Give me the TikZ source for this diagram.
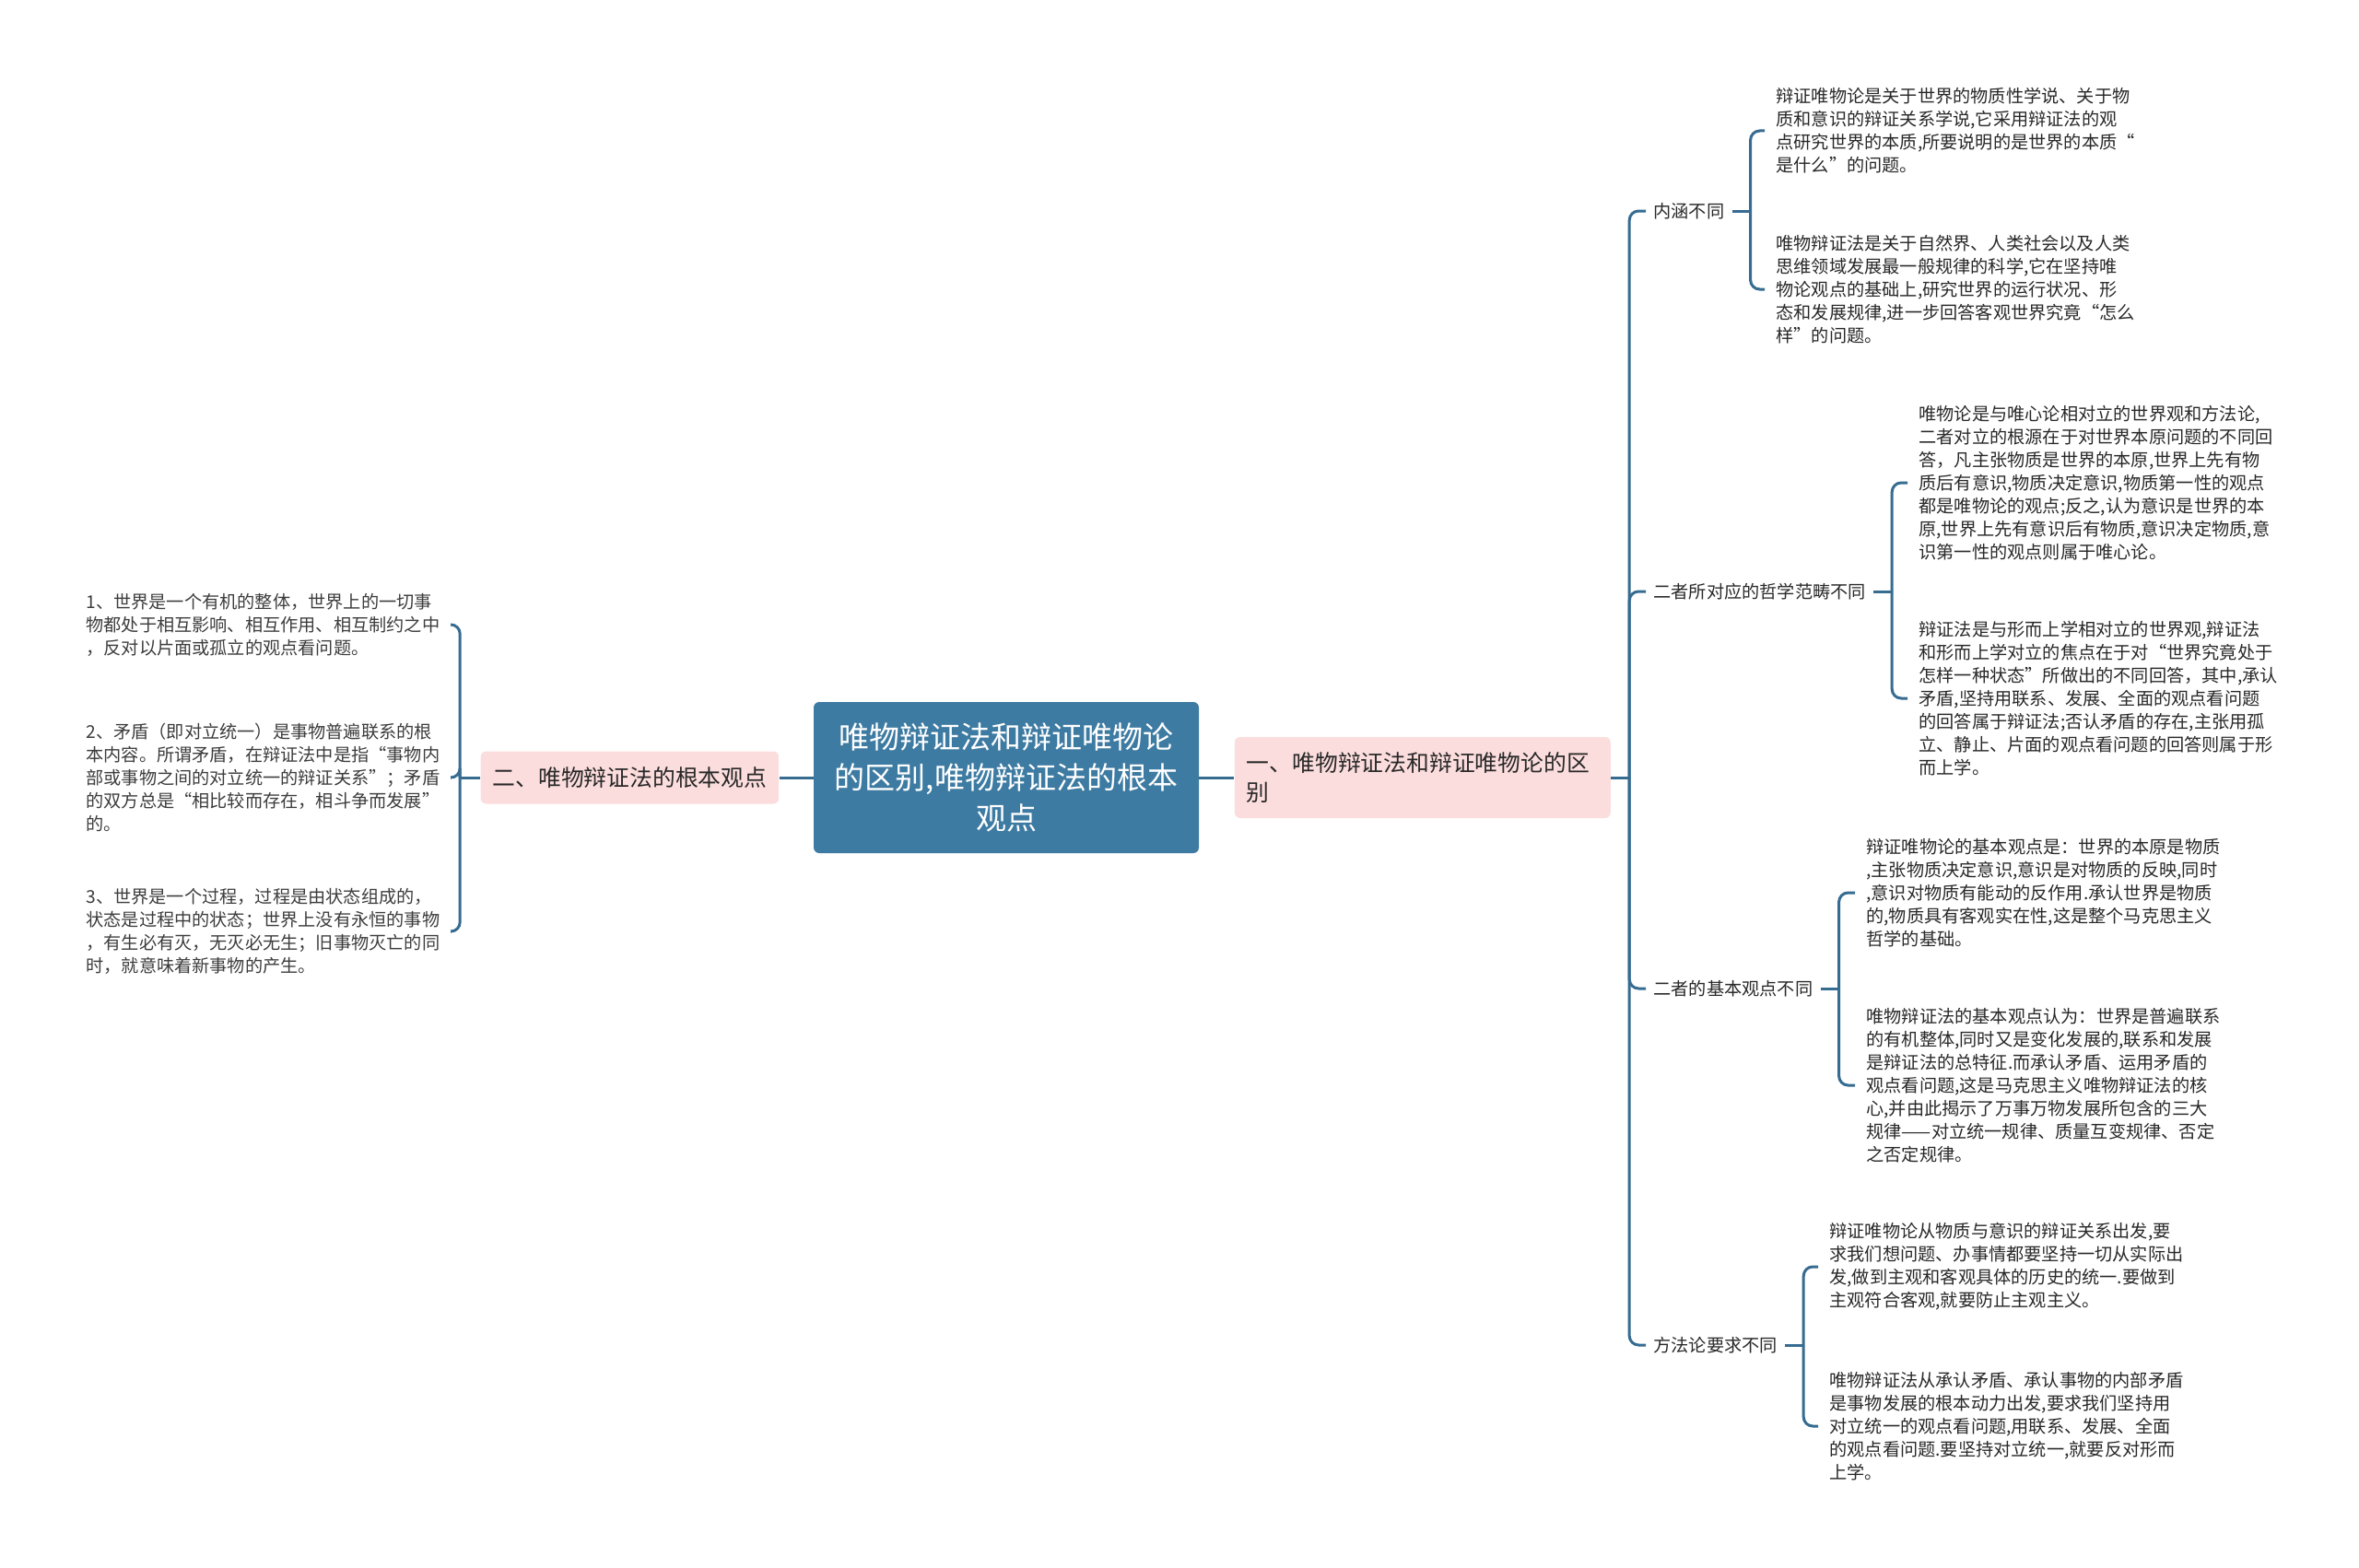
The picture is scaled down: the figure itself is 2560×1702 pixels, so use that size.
\documentclass[tikz,border=0pt]{standalone}
\usepackage{fontspec}
\setmainfont{Noto Sans CJK SC}
\usepackage{xcolor}
\usepackage{tikz}
\usetikzlibrary{positioning}
\definecolor{ink}{RGB}{40,40,40}
\definecolor{inkgray}{RGB}{60,60,60}
\definecolor{rootblue}{RGB}{62,123,162}
\definecolor{linkblue}{RGB}{55,108,145}
\definecolor{topicpink}{RGB}{252,221,221}
\tikzset{
  rootbox/.style={fill=rootblue, rounded corners=3pt, align=center, text=white,
    font=\fontsize{16.5}{22}\selectfont, minimum width=209pt, minimum height=82pt,
    inner sep=4pt},
  topicbox/.style={fill=topicpink, rounded corners=3pt, text=ink,
    font=\fontsize{12.4}{16.3}\selectfont, inner xsep=6.5pt, inner ysep=4pt},
  sublabel/.style={anchor=west, text=ink, font=\fontsize{9.6}{12.5}\selectfont,
    inner xsep=4pt, inner ysep=2pt},
  leaf/.style={anchor=west, align=left, text=ink, font=\fontsize{9.6}{12.5}\selectfont,
    inner xsep=6pt, inner ysep=2pt},
  link/.style={draw=linkblue, line width=1.5pt},
  bracket/.style={link, rounded corners=5pt},
}

\begin{document}
\begin{tikzpicture}[x=0.5pt, y=-0.5pt]
  \useasboundingbox (0,0) rectangle (2560,1702);

  \node[rootbox] (root) at (1092,844)
    {唯物辩证法和辩证唯物论\\的区别,唯物辩证法的根本\\观点};
  \node[topicbox, right=19pt of root, text width=191pt, align=left, minimum height=44pt] (diff)
    {一、唯物辩证法和辩证唯物论的区\\别};
  \node[topicbox, left=18.5pt of root, minimum width=160pt, minimum height=28.5pt] (basic)
    {二、唯物辩证法的根本观点};

  % right branch
  \node[sublabel] (neihan) at (1786,229) {内涵不同};
  \node[sublabel] (fanchou) at (1786,642) {二者所对应的哲学范畴不同};
  \node[sublabel] (guandian) at (1786,1073) {二者的基本观点不同};
  \node[sublabel] (fangfa) at (1786,1460) {方法论要求不同};

  \node[leaf] (neihan1) at (1915,142) {辩证唯物论是关于世界的物质性学说、关于物\\质和意识的辩证关系学说,它采用辩证法的观\\点研究世界的本质,所要说明的是世界的本质“\\是什么”的问题。};
  \node[leaf] (neihan2) at (1915,314) {唯物辩证法是关于自然界、人类社会以及人类\\思维领域发展最一般规律的科学,它在坚持唯\\物论观点的基础上,研究世界的运行状况、形\\态和发展规律,进一步回答客观世界究竟“怎么\\样”的问题。};

  \node[leaf] (fanchou1) at (2070,524) {唯物论是与唯心论相对立的世界观和方法论,\\二者对立的根源在于对世界本原问题的不同回\\答，凡主张物质是世界的本原,世界上先有物\\质后有意识,物质决定意识,物质第一性的观点\\都是唯物论的观点;反之,认为意识是世界的本\\原,世界上先有意识后有物质,意识决定物质,意\\识第一性的观点则属于唯心论。};
  \node[leaf] (fanchou2) at (2070,758) {辩证法是与形而上学相对立的世界观,辩证法\\和形而上学对立的焦点在于对“世界究竟处于\\怎样一种状态”所做出的不同回答，其中,承认\\矛盾,坚持用联系、发展、全面的观点看问题\\的回答属于辩证法;否认矛盾的存在,主张用孤\\立、静止、片面的观点看问题的回答则属于形\\而上学。};

  \node[leaf] (guandian1) at (2013,969) {辩证唯物论的基本观点是：世界的本原是物质\\,主张物质决定意识,意识是对物质的反映,同时\\,意识对物质有能动的反作用.承认世界是物质\\的,物质具有客观实在性,这是整个马克思主义\\哲学的基础。};
  \node[leaf] (guandian2) at (2013,1178) {唯物辩证法的基本观点认为：世界是普遍联系\\的有机整体,同时又是变化发展的,联系和发展\\是辩证法的总特征.而承认矛盾、运用矛盾的\\观点看问题,这是马克思主义唯物辩证法的核\\心,并由此揭示了万事万物发展所包含的三大\\规律——对立统一规律、质量互变规律、否定\\之否定规律。};

  \node[leaf] (fangfa1) at (1973,1375) {辩证唯物论从物质与意识的辩证关系出发,要\\求我们想问题、办事情都要坚持一切从实际出\\发,做到主观和客观具体的历史的统一.要做到\\主观符合客观,就要防止主观主义。};
  \node[leaf] (fangfa2) at (1973,1548) {唯物辩证法从承认矛盾、承认事物的内部矛盾\\是事物发展的根本动力出发,要求我们坚持用\\对立统一的观点看问题,用联系、发展、全面\\的观点看问题.要坚持对立统一,就要反对形而\\上学。};

  % left branch
  \node[leaf, text=inkgray] (left1) at (81,678) {1、世界是一个有机的整体，世界上的一切事\\物都处于相互影响、相互作用、相互制约之中\\，反对以片面或孤立的观点看问题。};
  \node[leaf, text=inkgray] (left2) at (81,844) {2、矛盾（即对立统一）是事物普遍联系的根\\本内容。所谓矛盾，在辩证法中是指“事物内\\部或事物之间的对立统一的辩证关系”；矛盾\\的双方总是“相比较而存在，相斗争而发展”\\的。};
  \node[leaf, text=inkgray] (left3) at (81,1011) {3、世界是一个过程，过程是由状态组成的，\\状态是过程中的状态；世界上没有永恒的事物\\，有生必有灭，无灭必无生；旧事物灭亡的同\\时，就意味着新事物的产生。};

  % connectors
  \draw[link] (root.east) -- (diff.west);
  \draw[link] (basic.east) -- (root.west);

  \coordinate (diffspine) at ([xshift=10pt]diff.east);
  \draw[link] (diff.east) -- (diffspine);
  \foreach \n in {neihan,fanchou,guandian,fangfa}
    \draw[bracket] (diffspine) |- (\n.west);

  \foreach \n in {neihan,fanchou,guandian,fangfa} {
    \coordinate (\n spine) at ([xshift=10pt]\n.east);
    \draw[link] (\n.east) -- (\n spine);
    \draw[bracket] (\n spine) |- (\n 1.west);
    \draw[bracket] (\n spine) |- (\n 2.west);
  }

  \coordinate (basicspine) at ([xshift=-11pt]basic.west);
  \draw[link] (basic.west) -- (basicspine);
  \foreach \n in {left1,left2,left3}
    \draw[bracket] (basicspine) |- (\n.east);
\end{tikzpicture}
\end{document}
